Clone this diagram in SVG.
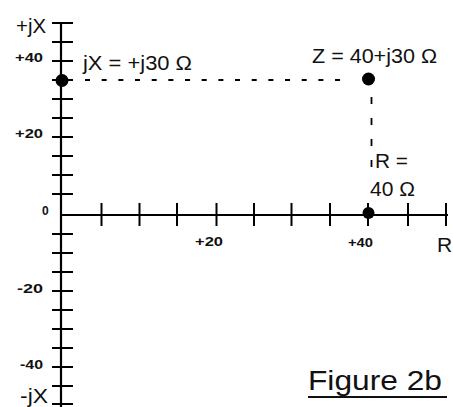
<svg xmlns="http://www.w3.org/2000/svg" width="453" height="407" viewBox="0 0 453 407">
<style>
.ax{stroke:#000;stroke-width:2.2;fill:none}
.tk{stroke:#000;stroke-width:2;fill:none}
.dash{stroke:#000;stroke-width:1.8;fill:none}
.big{font-family:"Liberation Sans",Arial,sans-serif;font-size:21px;fill:#111}
.sm{font-family:"Liberation Sans",Arial,sans-serif;font-size:12px;font-weight:bold;fill:#111}
.fig{font-family:"Liberation Sans",Arial,sans-serif;font-size:28px;fill:#111}
.pt{fill:#000}
</style>
<rect width="453" height="407" fill="#fff"/>
<g id="axes">
<line class="ax" x1="61" y1="23" x2="61" y2="407"/>
<line class="ax" x1="61" y1="215" x2="448" y2="215"/>
<g id="yticks" class="tk">
<line x1="52" y1="23" x2="73" y2="23"/>
<line x1="52" y1="42" x2="73" y2="42"/>
<line x1="52" y1="61" x2="73" y2="61"/>
<line x1="52" y1="80" x2="73" y2="80"/>
<line x1="52" y1="99" x2="73" y2="99"/>
<line x1="52" y1="118" x2="73" y2="118"/>
<line x1="52" y1="137" x2="73" y2="137"/>
<line x1="52" y1="156" x2="73" y2="156"/>
<line x1="52" y1="175" x2="73" y2="175"/>
<line x1="52" y1="194" x2="73" y2="194"/>
<line x1="52" y1="234" x2="73" y2="234"/>
<line x1="52" y1="253" x2="73" y2="253"/>
<line x1="52" y1="272" x2="73" y2="272"/>
<line x1="52" y1="291" x2="73" y2="291"/>
<line x1="52" y1="310" x2="73" y2="310"/>
<line x1="52" y1="329" x2="73" y2="329"/>
<line x1="52" y1="348" x2="73" y2="348"/>
<line x1="52" y1="367" x2="73" y2="367"/>
<line x1="52" y1="386" x2="73" y2="386"/>
<line x1="52" y1="404" x2="73" y2="404"/>
</g>
<g id="xticks" class="tk">
<line x1="101.5" y1="203" x2="101.5" y2="226"/>
<line x1="139.5" y1="203" x2="139.5" y2="226"/>
<line x1="177" y1="203" x2="177" y2="226"/>
<line x1="216.5" y1="203" x2="216.5" y2="226"/>
<line x1="254" y1="203" x2="254" y2="226"/>
<line x1="291.5" y1="203" x2="291.5" y2="226"/>
<line x1="330" y1="203" x2="330" y2="226"/>
<line x1="368" y1="203" x2="368" y2="226"/>
<line x1="408" y1="203" x2="408" y2="226"/>
<line x1="446" y1="203" x2="446" y2="226"/>
</g>
</g>
<g id="connectors">
<line class="dash" x1="85" y1="80" x2="343" y2="80" stroke-dasharray="5 11.67"/>
<line class="dash" x1="371.5" y1="97" x2="371.5" y2="168" stroke-dasharray="7 14"/>
</g>
<g id="point-jX"><circle class="pt" cx="62" cy="80.5" r="6.5"/></g>
<g id="point-Z"><circle class="pt" cx="368.5" cy="79" r="6.5"/></g>
<g id="point-R"><circle class="pt" cx="368.5" cy="213" r="6"/></g>
<g id="labels">
<text class="big" x="16" y="33" textLength="30" lengthAdjust="spacingAndGlyphs">+jX</text>
<text class="big" x="20" y="403" textLength="28" lengthAdjust="spacingAndGlyphs">-jX</text>
<text class="big" x="83" y="70" textLength="109" lengthAdjust="spacingAndGlyphs">jX = +j30 Ω</text>
<text class="big" x="312" y="63" textLength="125" lengthAdjust="spacingAndGlyphs">Z = 40+j30 Ω</text>
<text class="big" x="375" y="168" textLength="33" lengthAdjust="spacingAndGlyphs">R =</text>
<text class="big" x="370" y="196" textLength="45" lengthAdjust="spacingAndGlyphs">40 Ω</text>
<text class="big" x="437" y="252">R</text>
<text class="sm" x="15" y="62" textLength="28" lengthAdjust="spacingAndGlyphs">+40</text>
<text class="sm" x="15" y="138" textLength="28" lengthAdjust="spacingAndGlyphs">+20</text>
<text class="sm" x="42" y="215">0</text>
<text class="sm" x="17" y="293" textLength="26" lengthAdjust="spacingAndGlyphs">-20</text>
<text class="sm" x="20" y="369" textLength="23" lengthAdjust="spacingAndGlyphs">-40</text>
<text class="sm" x="195" y="246" textLength="28" lengthAdjust="spacingAndGlyphs">+20</text>
<text class="sm" x="348" y="247" textLength="25" lengthAdjust="spacingAndGlyphs">+40</text>
<text class="fig" x="308" y="390" textLength="134" lengthAdjust="spacingAndGlyphs">Figure 2b</text>
<line x1="308" y1="397" x2="447" y2="397" stroke="#111" stroke-width="2"/>
</g>
</svg>
